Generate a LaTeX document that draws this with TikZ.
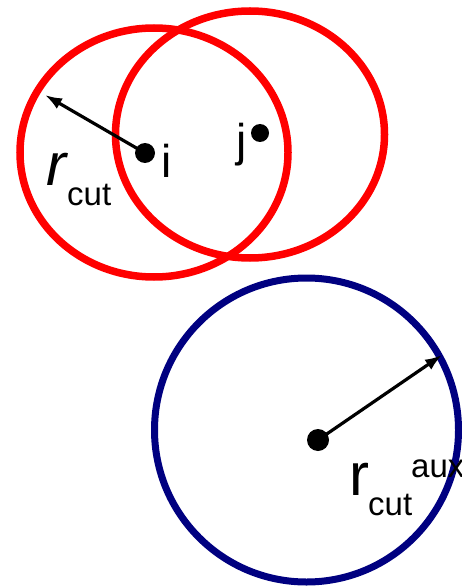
\documentclass[tikz,border=0pt]{standalone}
\usepackage{fontspec}
\setmainfont{Liberation Sans}
\usepackage{tikz}
\usetikzlibrary{arrows.meta,shapes.geometric}
\definecolor{cutred}{RGB}{255,0,0}
\definecolor{auxblue}{RGB}{0,0,128}

\begin{document}
\begin{tikzpicture}[x=1pt,y=-1pt,
  ring/.style={draw,ellipse,line width=7.5pt,inner sep=0pt},
  atom/.style={circle,fill=black,inner sep=0pt},
  lbl/.style={anchor=base west,inner sep=0pt},
  ar/.style={-{Latex[length=17pt,width=12pt]},line width=3.2pt}]
\useasboundingbox (0,0) rectangle (462,588);
% cut-off spheres of i and j
\node[ring,cutred,minimum width=268pt,minimum height=249pt] (ringi) at (154,152.5) {};
\node[ring,cutred,minimum width=269pt,minimum height=247pt] (ringj) at (250,134.5) {};
\node[atom,minimum size=20pt] (i) at (145,153) {};
\node[atom,minimum size=18pt] (j) at (260,133) {};
\node[lbl,font=\fontsize{46}{46}\selectfont] (li) at (161,177) {i};
\node[lbl,font=\fontsize{46}{46}\selectfont] (lj) at (236,157) {j};
\node[lbl,font=\fontsize{60}{60}\selectfont\itshape] (r) at (46,185) {r};
\node[lbl,font=\fontsize{33}{33}\selectfont] (cut) at (67,205) {cut};
\coordinate (ri) at (45,95);
\draw[ar] (i.center)--(ri);
% auxiliary sphere
\node[ring,auxblue,circle,line width=7pt,minimum size=304pt] (ringaux) at (306.5,430) {};
\node[atom,minimum size=22pt] (k) at (318,440) {};
\node[lbl,font=\fontsize{60}{60}\selectfont] (raux) at (349,495) {r};
\node[lbl,font=\fontsize{33}{33}\selectfont] (cutaux) at (368,515) {cut};
\node[lbl,font=\fontsize{33}{33}\selectfont] (aux) at (411,477) {aux};
\coordinate (rk) at (442,355);
\draw[ar] (k.center)--(rk);
\end{tikzpicture}
\end{document}
